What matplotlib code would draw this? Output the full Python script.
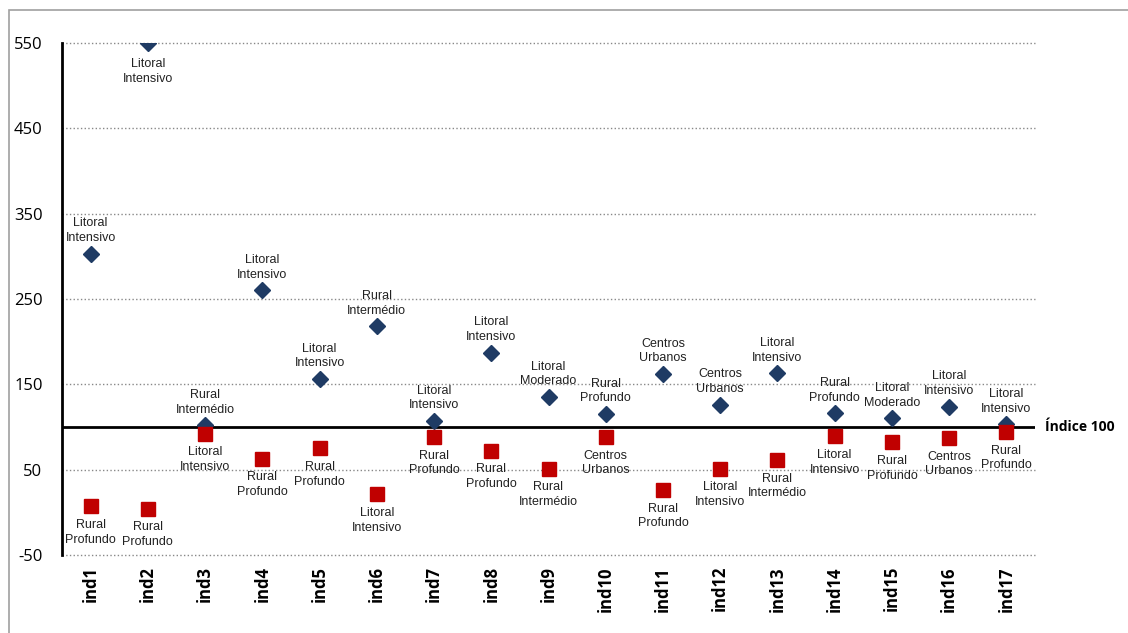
import matplotlib.pyplot as plt
from matplotlib.patches import Rectangle

plt.rcParams["axes.unicode_minus"] = False

categories = ["ind%d" % i for i in range(1, 18)]
max_vals = [303, 550, 102, 260, 156, 218, 107, 187, 135, 115, 162, 126, 163, 116, 110, 124, 103]
min_vals = [7, 4, 92, 63, 75, 21, 88, 72, 51, 88, 26, 51, 61, 89, 82, 87, 94]
max_labels = ["Litoral\nIntensivo", "Litoral\nIntensivo", "Rural\nIntermédio", "Litoral\nIntensivo",
              "Litoral\nIntensivo", "Rural\nIntermédio", "Litoral\nIntensivo", "Litoral\nIntensivo",
              "Litoral\nModerado", "Rural\nProfundo", "Centros\nUrbanos", "Centros\nUrbanos",
              "Litoral\nIntensivo", "Rural\nProfundo", "Litoral\nModerado", "Litoral\nIntensivo",
              "Litoral\nIntensivo"]
min_labels = ["Rural\nProfundo", "Rural\nProfundo", "Litoral\nIntensivo", "Rural\nProfundo",
              "Rural\nProfundo", "Litoral\nIntensivo", "Rural\nProfundo", "Rural\nProfundo",
              "Rural\nIntermédio", "Centros\nUrbanos", "Rural\nProfundo", "Litoral\nIntensivo",
              "Rural\nIntermédio", "Litoral\nIntensivo", "Rural\nProfundo", "Centros\nUrbanos",
              "Rural\nProfundo"]
yticks = [-50, 50, 150, 250, 350, 450, 550]
ref_value = 100

label_font = ["Liberation Sans", "DejaVu Sans"]

fig = plt.figure(figsize=(11.28, 6.33), dpi=100)
fig.patches.append(Rectangle((9 / 1128, -0.1), 1.2, 1.1 - 10 / 633, transform=fig.transFigure,
                             fill=False, edgecolor="#a0a0a0", linewidth=1.2))
ax = fig.add_axes([62 / 1128, 1 - 555 / 633, (1035 - 62) / 1128, (555 - 43) / 633])

x = range(len(categories))
for t in yticks:
    ax.axhline(t, color="#888888", linestyle=":", linewidth=1, zorder=1, clip_on=False)
ax.axhline(ref_value, color="black", linewidth=2, zorder=2)
ax.plot(x, max_vals, linestyle="none", marker="D", ms=8, color="#1F3B64", zorder=3)
ax.plot(x, min_vals, linestyle="none", marker="s", ms=9.5, color="#C00000", zorder=4)

lab_kw = dict(textcoords="offset points", ha="center", fontsize=9, family=label_font,
              color="#222222", linespacing=1.3)
for i in x:
    if i == 1:
        ax.annotate(max_labels[i], (i, max_vals[i]), xytext=(0, -11), va="top", **lab_kw)
    else:
        ax.annotate(max_labels[i], (i, max_vals[i]), xytext=(0, 7), va="bottom", **lab_kw)
    ax.annotate(min_labels[i], (i, min_vals[i]), xytext=(0, -9), va="top", **lab_kw)

ax.set_xlim(-0.5, len(categories) - 0.5)
ax.set_ylim(-50, 550)
ax.set_yticks(yticks)
ax.set_xticks(list(x))
ax.set_xticklabels(categories, rotation=90, fontweight="bold", fontsize=12, family="Open Sans")
for lab in ax.get_yticklabels():
    lab.set_fontsize(12)
    lab.set_family("Open Sans")
ax.tick_params(axis="both", length=0)
ax.tick_params(axis="y", pad=14)
ax.tick_params(axis="x", pad=8)
for side in ["top", "right", "bottom"]:
    ax.spines[side].set_visible(False)
ax.spines["left"].set_linewidth(2)

ax.text(1.01, ref_value, "Índice 100", transform=ax.get_yaxis_transform(), ha="left", va="center",
        fontsize=10, fontweight="bold", family="Open Sans")

fig.savefig("out.png", dpi=100)
